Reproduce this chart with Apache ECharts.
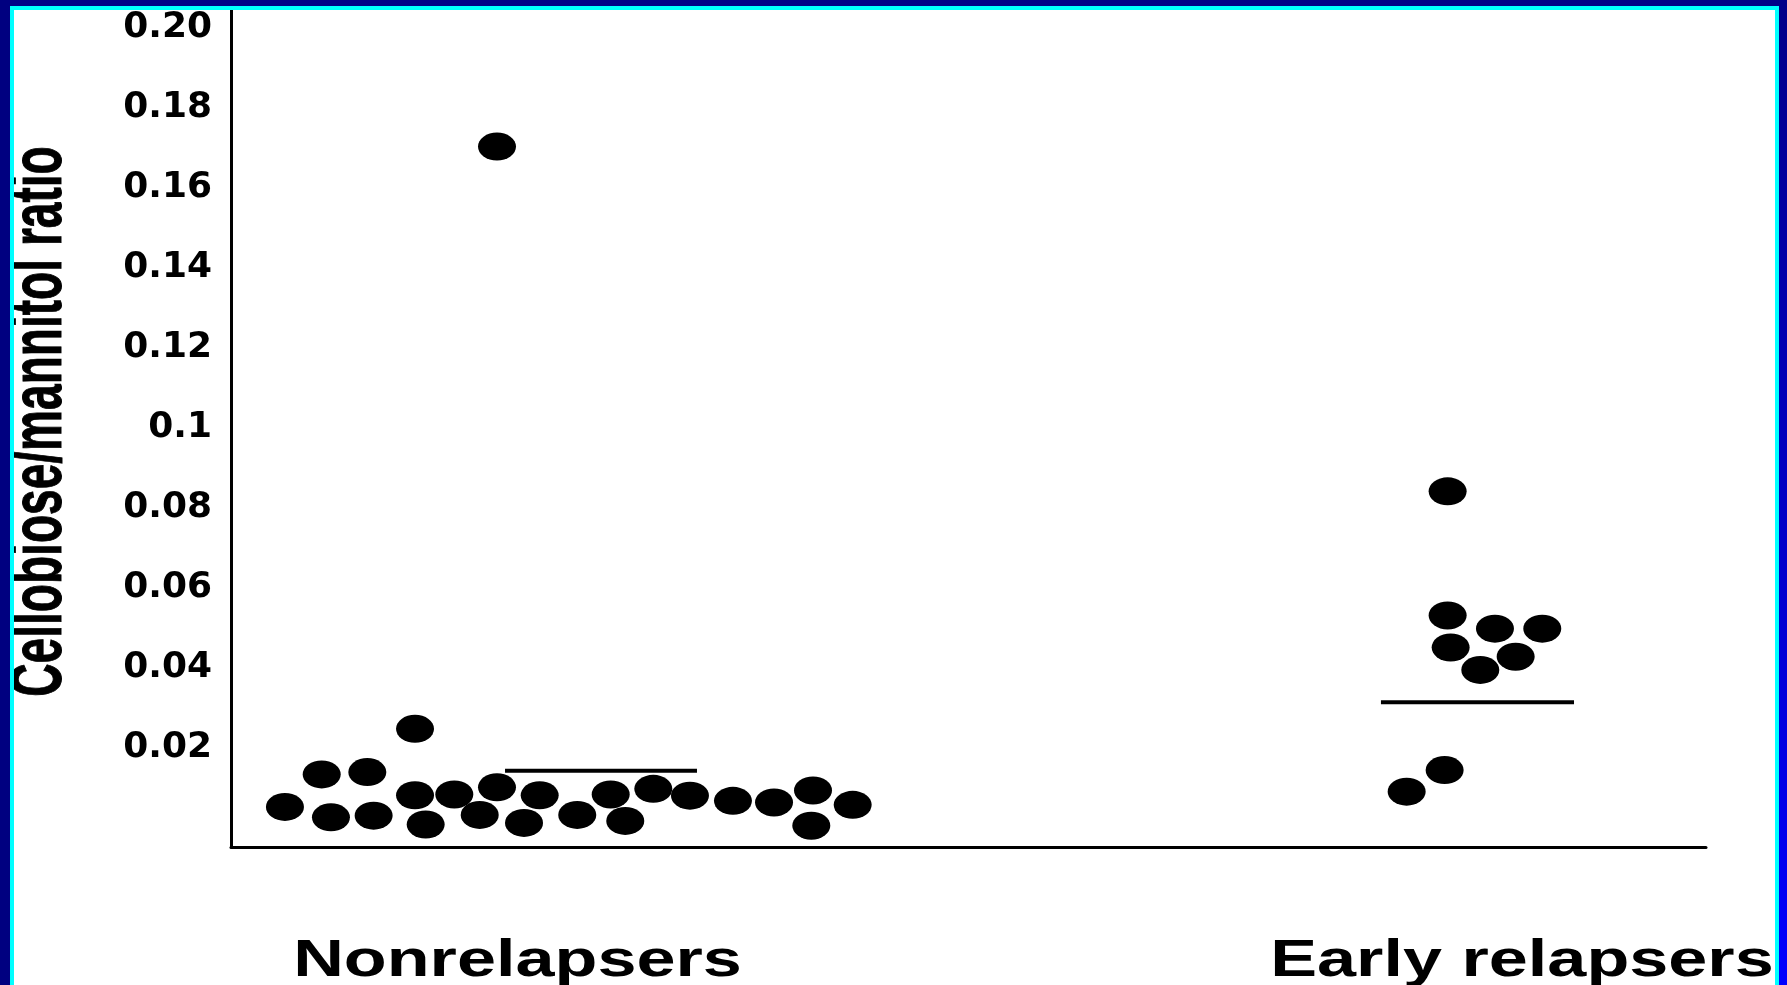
<!DOCTYPE html>
<html>
<head>
<meta charset="utf-8">
<script src="https://cdn.jsdelivr.net/npm/echarts@6/dist/echarts.min.js"></script>
<style>
html,body{margin:0;padding:0;background:#fff;}
#wrap{position:relative;width:1787px;height:985px;overflow:hidden;background:#fff;}
#chart{position:absolute;left:0;top:0;width:1787px;height:985px;}
.b{position:absolute;pointer-events:none;}
</style>
</head>
<body>
<div id="wrap">
  <div id="chart"></div>
  <div class="b" style="left:0;top:0;width:1787px;height:6px;background:#000088"></div>
  <div class="b" style="left:10px;top:6px;width:1769px;height:4px;background:#00ffff"></div>
  <div class="b" style="left:0;top:0;width:10px;height:985px;background:#000080"></div>
  <div class="b" style="left:10px;top:6px;width:4px;height:979px;background:#00ffff"></div>
  <div class="b" style="left:1775px;top:6px;width:4px;height:979px;background:#00ffff"></div>
  <div class="b" style="left:1779px;top:0;width:8px;height:985px;background:linear-gradient(#000088,#0000ff)"></div>
</div>
<script>
// ---- data ----
const categories = ['Nonrelapsers', 'Early relapsers'];
const categoryPos = [1, 2];

const nonrelapsersValues = [0.0053, 0.0134, 0.0027, 0.0140, 0.0031, 0.0248, 0.0082, 0.0009,
  0.0084, 0.0033, 0.0102, 0.0013, 0.0082, 0.0033, 0.0084, 0.0018, 0.0098, 0.0081, 0.0068,
  0.0064, 0.0094, 0.0006, 0.0058, 0.1702];
const nonrelapsersJitter = [-0.2315, -0.1949, -0.1857, -0.1495, -0.1432, -0.1020, -0.1020, -0.0914,
  -0.0629, -0.0376, -0.0204, 0.0065, 0.0221, 0.0595, 0.0928, 0.1073, 0.1352, 0.1717, 0.2145,
  0.2554, 0.2942, 0.2925, 0.3337, -0.0204];

const earlyValues = [0.0841, 0.0531, 0.0498, 0.0498, 0.0451, 0.0428, 0.0395, 0.0145, 0.0091];
const earlyJitter = [-0.0740, -0.0740, -0.0269, 0.0202, -0.0710, -0.0063, -0.0415, -0.0770, -0.1148];

const centralLineValues = [0.0143, 0.0314];
const centralLineSpan = [[-0.0124, 0.1787], [-0.1404, 0.0518]];

const yTickValues = [0.02, 0.04, 0.06, 0.08, 0.10, 0.12, 0.14, 0.16, 0.18, 0.20];
const yTickLabels = ['0.02', '0.04', '0.06', '0.08', '0.1', '0.12', '0.14', '0.16', '0.18', '0.20'];
const yTitle = 'Cellobiose/mannitol ratio';

// ---- chart ----
const chart = echarts.init(document.getElementById('chart'), null, {renderer: 'canvas'});

const groups = [
  {values: nonrelapsersValues, jitter: nonrelapsersJitter},
  {values: earlyValues, jitter: earlyJitter}
];

const series = [];
groups.forEach((g, gi) => {
  series.push({
    type: 'line',
    data: centralLineSpan[gi].map(o => [categoryPos[gi] + o, centralLineValues[gi]]),
    symbol: 'none',
    lineStyle: {color: '#000', width: 4},
    silent: true,
    z: 2
  });
  series.push({
    type: 'scatter',
    name: categories[gi],
    data: g.values.map((v, i) => [categoryPos[gi] + g.jitter[i], v]),
    symbol: 'circle',
    symbolSize: [38, 28],
    itemStyle: {color: '#000', opacity: 1},
    z: 3
  });
});

chart.setOption({
  animation: false,
  backgroundColor: '#fff',
  grid: {left: 231, right: 81, top: 10, bottom: 138, containLabel: false},
  xAxis: {
    type: 'value',
    min: 0.7148,
    max: 2.1832,
    axisLine: {show: true, onZero: false, lineStyle: {color: '#000', width: 3}},
    axisTick: {show: false},
    axisLabel: {show: false},
    splitLine: {show: false}
  },
  yAxis: {
    type: 'value',
    min: -0.00472,
    max: 0.2043,
    axisLine: {show: true, onZero: false, lineStyle: {color: '#000', width: 3}},
    axisTick: {show: false},
    splitLine: {show: false},
    axisLabel: {
      customValues: yTickValues,
      margin: 19,
      color: '#000',
      fontFamily: '"DejaVu Sans"',
      fontWeight: 'bold',
      fontSize: 36,
      padding: [6, 0, 0, 0],
      formatter: function (v) {
        let best = 0, d = Infinity;
        yTickValues.forEach((t, i) => { const dd = Math.abs(t - v); if (dd < d) { d = dd; best = i; } });
        return yTickLabels[best];
      }
    }
  },
  series: series
});

const graphics = categories.map((c, i) => ({
  type: 'text',
  x: chart.convertToPixel({xAxisIndex: 0}, categoryPos[i]),
  y: 962,
  scaleX: 1.35,
  style: {
    text: c,
    font: 'bold 52px "Liberation Sans", Arial, sans-serif',
    fill: '#000',
    textAlign: 'center',
    textVerticalAlign: 'middle'
  }
}));
graphics.push({
  type: 'text',
  x: 41,
  y: 421.5,
  rotation: Math.PI / 2,
  scaleX: 0.64,
  style: {
    text: yTitle,
    font: 'bold 72px "Liberation Sans", Arial, sans-serif',
    fill: '#000',
    stroke: '#000',
    lineWidth: 1,
    textAlign: 'center',
    textVerticalAlign: 'middle'
  }
});
chart.setOption({graphic: graphics});
</script>
</body>
</html>
